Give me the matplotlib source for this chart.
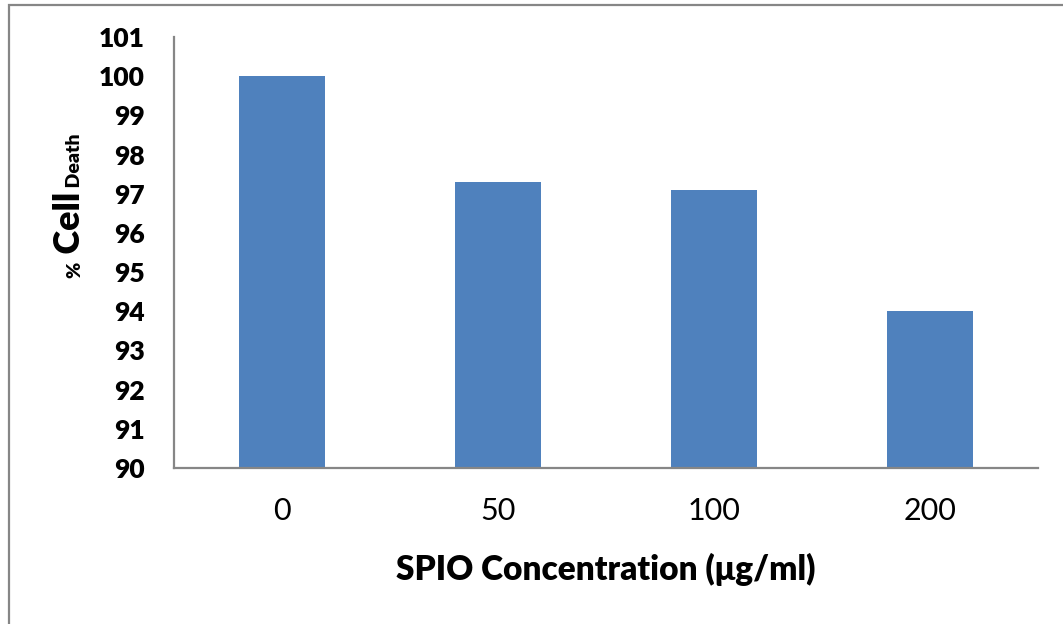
import matplotlib
matplotlib.use("Agg")
import matplotlib.pyplot as plt
from matplotlib.patches import Rectangle

# data
concentrations = ["0", "50", "100", "200"]
cell_death_pct = [100.0, 97.3, 97.1, 94.0]
y_ticks = list(range(90, 102))

BAR_COLOR = "#4F81BD"
AXIS_GRAY = "#868686"
FONT = ["Lato", "DejaVu Sans"]

plt.rcParams["font.family"] = FONT

fig = plt.figure(figsize=(10.63, 6.24), dpi=100)
ax = fig.add_axes([174 / 1063, 1 - 468 / 624, (1038 - 174) / 1063, (468 - 37) / 624])

x = range(len(concentrations))
ax.bar(x, cell_death_pct, width=0.4, color=BAR_COLOR, zorder=2)

ax.set_xlim(-0.5, len(concentrations) - 0.5)
ax.set_ylim(90, 101)
ax.set_yticks(y_ticks)
ax.set_yticklabels([str(v) for v in y_ticks], fontsize=19, fontweight="heavy")
ax.set_xticks(list(x))
ax.set_xticklabels(concentrations, fontsize=22)
ax.tick_params(axis="y", length=0, pad=21)
ax.tick_params(axis="x", length=0, pad=21)

for side in ("top", "right"):
    ax.spines[side].set_visible(False)
for side in ("left", "bottom"):
    ax.spines[side].set_color(AXIS_GRAY)
    ax.spines[side].set_linewidth(1.6)

ax.set_xlabel("SPIO Concentration (\u03bcg/ml)", fontsize=24, fontweight="heavy")
ax.xaxis.label.set_va("baseline")
ax.xaxis.set_label_coords(0.5, -112 / 431)

# y label with mixed sizes: "% Cell Death", built piece by piece bottom to top
fig.canvas.draw()
renderer = fig.canvas.get_renderer()
baseline_x = 80 / 1063
y_pos = 1 - 278 / 624
for piece, size in [("%", 14), (" Cell", 26), (" Death", 14)]:
    t = fig.text(baseline_x, y_pos, piece, rotation=90, rotation_mode="anchor",
                 ha="left", va="baseline", fontsize=size, fontweight="heavy")
    bb = t.get_window_extent(renderer).transformed(fig.transFigure.inverted())
    y_pos = bb.y1

# outer chart-area border (only left and top edges are visible in the frame)
fig.patches.append(Rectangle((8.5 / 1063, -0.1), 1.2, 1.1 - 4.5 / 624,
                             transform=fig.transFigure, fill=False,
                             edgecolor=AXIS_GRAY, linewidth=1.6))

fig.savefig("out.png", dpi=100)
